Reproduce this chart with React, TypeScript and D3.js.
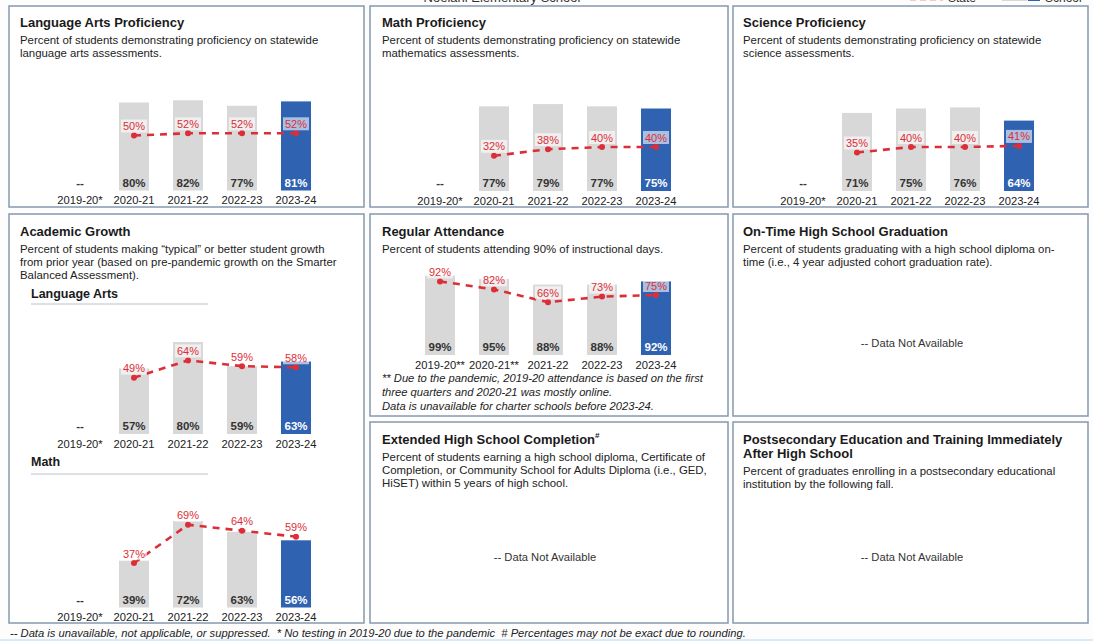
import React from "react";
import * as d3 from "d3";

const FONT = "'Liberation Sans', Arial, Helvetica, sans-serif";

const categories = ["2019-20*", "2020-21", "2021-22", "2022-23", "2023-24"];
const attendanceCategories = ["2019-20**", "2020-21**", "2021-22", "2022-23", "2023-24"];

const laSchool = [null, 80, 82, 77, 81];
const laState = [null, 50, 52, 52, 52];
const mathSchool = [null, 77, 79, 77, 75];
const mathState = [null, 32, 38, 40, 40];
const sciSchool = [null, 71, 75, 76, 64];
const sciState = [null, 35, 40, 40, 41];
const growthLASchool = [null, 57, 80, 59, 63];
const growthLAState = [null, 49, 64, 59, 58];
const growthMathSchool = [null, 39, 72, 63, 56];
const growthMathState = [null, 37, 69, 64, 59];
const attSchool = [99, 95, 88, 88, 92];
const attState = [92, 82, 66, 73, 75];

const RED = "#dd2e38";
const GRAY = "#d8d8d8";
const BLUE = "#2f62b1";
const BORDER = "#8798ac";

type Val = number | null;

function BarChart({ left, bottom, k, cats, school, state }: { left: number; bottom: number; k: number; cats: string[]; school: Val[]; state: Val[] }) {
  const x = d3.scaleBand<string>().domain(cats).range([left + 43, left + 313]).paddingInner(0.444).paddingOuter(0.222);
  const y = d3.scaleLinear().domain([0, 100]).range([bottom, bottom - 100 * k]);
  const cx = (c: string) => (x(c) as number) + x.bandwidth() / 2;
  const last = cats.length - 1;
  const pts = cats.map((c, i) => ({ c, v: state[i] })).filter((d) => d.v != null) as { c: string; v: number }[];
  const line = d3.line<{ c: string; v: number }>().x((d) => cx(d.c)).y((d) => y(d.v));
  return (
    <g>
      {cats.map((c, i) => {
        const v = school[i];
        return (
          <g key={c}>
            {v != null && (
              <rect x={x(c)} y={y(v)} width={x.bandwidth()} height={bottom - y(v)} fill={i === last ? BLUE : GRAY} />
            )}
            <text x={cx(c)} y={bottom - 4} textAnchor="middle" fontSize={11.5} fontWeight="bold" fill={i === last ? "#fff" : "#333"}>
              {v != null ? `${v}%` : "--"}
            </text>
            <text x={cx(c)} y={bottom + 13.5} textAnchor="middle" fontSize={11.2} fill="#222">
              {c}
            </text>
          </g>
        );
      })}
      <path d={line(pts) || ""} fill="none" stroke={RED} strokeWidth={2.6} strokeDasharray="7 6" />
      {pts.map((d) => (
        <circle key={"m" + d.c} cx={cx(d.c)} cy={y(d.v)} r={3} fill={RED} />
      ))}
      {pts.map((d) => (
        <g key={"l" + d.c}>
          <rect x={cx(d.c) - 13} y={y(d.v) - 16} width={26} height={13} fill="#fff" opacity={0.6} />
          <text x={cx(d.c)} y={y(d.v) - 5.5} textAnchor="middle" fontSize={11} fill={RED}>
            {d.v}%
          </text>
        </g>
      ))}
    </g>
  );
}

function Panel({ x, y, w, h }: { x: number; y: number; w: number; h: number }) {
  return <rect x={x} y={y} width={w} height={h} fill="#fff" stroke={BORDER} strokeWidth={1.5} />;
}

function Heading({ x, y, title, lines, titleLines }: { x: number; y: number; title?: React.ReactNode; lines: string[]; titleLines?: string[] }) {
  const tl = titleLines || [];
  const tCount = title ? 1 : tl.length;
  return (
    <g>
      {title && (
        <text x={x} y={y} fontSize={13} fontWeight="bold" fill="#1a1a1a">
          {title}
        </text>
      )}
      {tl.map((t, i) => (
        <text key={t} x={x} y={y + i * 13.5} fontSize={13} fontWeight="bold" fill="#1a1a1a">
          {t}
        </text>
      ))}
      {lines.map((l, i) => (
        <text key={l} x={x} y={y + (tCount - 1) * 13.5 + 17 + i * 13} fontSize={11.4} fill="#222">
          {l}
        </text>
      ))}
    </g>
  );
}

function NA({ x, y }: { x: number; y: number }) {
  return (
    <text x={x} y={y} textAnchor="middle" fontSize={11.2} fill="#333">
      -- Data Not Available
    </text>
  );
}

export default function App() {
  const cols = [9, 370, 733];
  const W = 356;
  return (
    <div style={{ position: "absolute", left: 0, top: 0 }}>
      <svg width={1093} height={641} style={{ display: "block", fontFamily: FONT }}>
        <rect x={0} y={0} width={1093} height={641} fill="#fdfdfd" />
        {/* page header, cut off at the top edge as in the source */}
        <text x={502} y={2} textAnchor="middle" fontSize={13} fill="#333">Noelani Elementary School</text>
        <line x1={910} y1={-1} x2={943} y2={-1} stroke={RED} strokeWidth={2.5} strokeDasharray="6 4" />
        <text x={948} y={2} fontSize={12} fill="#333">State</text>
        <rect x={1002} y={-10} width={25} height={11} fill={GRAY} />
        <rect x={1028} y={-10} width={12} height={11} fill={BLUE} />
        <text x={1045} y={2} fontSize={12} fill="#333">School</text>

        {/* Row 1 */}
        <Panel x={cols[0]} y={6} w={W - 1} h={201} />
        <Panel x={cols[1]} y={6} w={W + 2} h={201} />
        <Panel x={cols[2]} y={6} w={W - 1} h={201} />
        <Heading x={20} y={27} title="Language Arts Proficiency" lines={["Percent of students demonstrating proficiency on statewide", "language arts assessments."]} />
        <Heading x={382} y={27} title="Math Proficiency" lines={["Percent of students demonstrating proficiency on statewide", "mathematics assessments."]} />
        <Heading x={743} y={27} title="Science Proficiency" lines={["Percent of students demonstrating proficiency on statewide", "science assessments."]} />
        <BarChart left={cols[0] + 1} bottom={190.5} k={1.1} cats={categories} school={laSchool} state={laState} />
        <BarChart left={cols[1]} bottom={191} k={1.1} cats={categories} school={mathSchool} state={mathState} />
        <BarChart left={cols[2]} bottom={191} k={1.1} cats={categories} school={sciSchool} state={sciState} />

        {/* Academic growth */}
        <Panel x={cols[0]} y={214} w={W - 1} h={409} />
        <Heading x={20} y={236} title="Academic Growth" lines={["Percent of students making \u201ctypical\u201d or better student growth", "from prior year (based on pre-pandemic growth on the Smarter", "Balanced Assessment)."]} />
        <text x={31} y={298} fontSize={12.5} fontWeight="bold" fill="#1a1a1a">Language Arts</text>
        <line x1={31} y1={304} x2={208} y2={304} stroke="#b9c3cc" strokeWidth={1} />
        <BarChart left={cols[0] + 1} bottom={434} k={1.15} cats={categories} school={growthLASchool} state={growthLAState} />
        <text x={31} y={466} fontSize={12.5} fontWeight="bold" fill="#1a1a1a">Math</text>
        <line x1={31} y1={474} x2={208} y2={474} stroke="#b9c3cc" strokeWidth={1} />
        <BarChart left={cols[0] + 1} bottom={607.5} k={1.2} cats={categories} school={growthMathSchool} state={growthMathState} />

        {/* Regular attendance */}
        <Panel x={cols[1]} y={214} w={W + 2} h={202} />
        <Heading x={382} y={236} title="Regular Attendance" lines={["Percent of students attending 90% of instructional days."]} />
        <BarChart left={cols[1]} bottom={355} k={0.8} cats={attendanceCategories} school={attSchool} state={attState} />
        <g fontStyle="italic" fontSize={11.2} fill="#222">
          <text x={382} y={382}>** Due to the pandemic, 2019-20 attendance is based on the first</text>
          <text x={382} y={396}>three quarters and 2020-21 was mostly online.</text>
          <text x={382} y={410}>Data is unavailable for charter schools before 2023-24.</text>
        </g>

        {/* On-time graduation */}
        <Panel x={cols[2]} y={214} w={W - 1} h={202} />
        <Heading x={743} y={236} title="On-Time High School Graduation" lines={["Percent of students graduating with a high school diploma on-", "time (i.e., 4 year adjusted cohort graduation rate)."]} />
        <NA x={912} y={347} />

        {/* Extended */}
        <Panel x={cols[1]} y={422} w={W + 2} h={201} />
        <Heading
          x={382}
          y={444}
          title={
            <>
              Extended High School Completion
              <tspan dy={-6} fontSize={8}>#</tspan>
            </>
          }
          lines={["Percent of students earning a high school diploma, Certificate of", "Completion, or Community School for Adults Diploma (i.e., GED,", "HiSET) within 5 years of high school."]}
        />
        <NA x={545} y={561} />

        {/* Postsecondary */}
        <Panel x={cols[2]} y={422} w={W - 1} h={201} />
        <Heading x={743} y={444} titleLines={["Postsecondary Education and Training Immediately", "After High School"]} lines={["Percent of graduates enrolling in a postsecondary educational", "institution by the following fall."]} />
        <NA x={912} y={561} />

        {/* footer */}
        <text x={10} y={637} fontSize={11.2} fontStyle="italic" fill="#222">
          -- Data is unavailable, not applicable, or suppressed.{"\u00a0\u00a0"}* No testing in 2019-20 due to the pandemic{"\u00a0\u00a0"}# Percentages may not be exact due to rounding.
        </text>
        <rect x={0} y={639} width={1093} height={2} fill="#dceaf6" />
      </svg>
    </div>
  );
}
